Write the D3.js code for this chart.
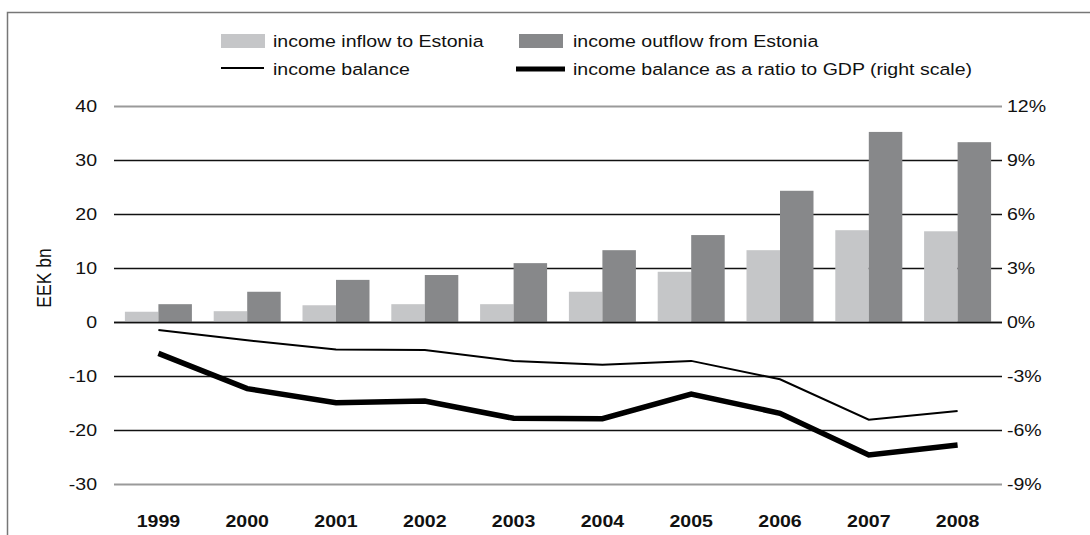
<!DOCTYPE html>
<html><head><meta charset="utf-8">
<script src="https://cdn.jsdelivr.net/npm/d3@7"></script>
<style>body{margin:0;background:#fff}svg{display:block;font-family:"Liberation Sans",Arial,sans-serif}</style>
</head><body><svg id="c" width="1090" height="535"></svg>
<script>
const years = ["1999","2000","2001","2002","2003","2004","2005","2006","2007","2008"];
const inflow = [1.9, 2.0, 3.1, 3.3, 3.3, 5.6, 9.3, 13.3, 17.0, 16.8];
const outflow = [3.3, 5.6, 7.8, 8.7, 10.9, 13.3, 16.1, 24.3, 35.2, 33.3];
const balance = [-1.5, -3.4, -5.1, -5.2, -7.2, -7.9, -7.2, -10.6, -18.1, -16.5];
const ratio = [-1.74, -3.7, -4.48, -4.39, -5.35, -5.37, -4.0, -5.07, -7.39, -6.83];
const leftTicks = [40, 30, 20, 10, 0, -10, -20, -30];
const rightTicks = [12, 9, 6, 3, 0, -3, -6, -9];

const svg = d3.select("#c");
const L = 114, R = 1002, T = 106, B = 484;
const SX = 1.15;
const x = d3.scaleBand().domain(years).range([L, R]);
const xi = d3.scaleBand().domain(["in","out"]).range([-33.5, 33.5]);
const y = d3.scaleLinear().domain([-30, 40]).range([B, T]);
const y2 = d3.scaleLinear().domain([-9, 12]).range([B, T]);

// frame
svg.append("path").attr("d", "M7.5,540 V12.5 H1095").attr("fill", "none").attr("stroke", "#777").attr("stroke-width", 1.5);

// gridlines
svg.append("g").selectAll("line").data(leftTicks).join("line")
  .attr("x1", L).attr("x2", R).attr("y1", d => Math.round(y(d)) + 0.5).attr("y2", d => Math.round(y(d)) + 0.5)
  .attr("stroke", d => (d === 40 || d === -30) ? "#9a9a9a" : "#111")
  .attr("stroke-width", d => (d === 40 || d === -30) ? 2 : 1.3);

// bars
const g = svg.append("g");
years.forEach((yr, i) => {
  const cx = x(yr) + x.bandwidth() / 2;
  g.append("rect").attr("x", cx + xi("in")).attr("width", xi.bandwidth())
    .attr("y", y(inflow[i])).attr("height", y(0) - y(inflow[i])).attr("fill", "#c5c6c8");
  g.append("rect").attr("x", cx + xi("out")).attr("width", xi.bandwidth())
    .attr("y", y(outflow[i])).attr("height", y(0) - y(outflow[i])).attr("fill", "#87888a");
});
svg.append("line").attr("x1", L).attr("x2", R).attr("y1", Math.round(y(0)) + 0.5).attr("y2", Math.round(y(0)) + 0.5)
  .attr("stroke", "#111").attr("stroke-width", 1.3);

const cxs = d => x(d) + x.bandwidth() / 2;
svg.append("path").datum(balance)
  .attr("d", d3.line().x((d, i) => cxs(years[i])).y(d => y(d)))
  .attr("fill", "none").attr("stroke", "#000").attr("stroke-width", 2);
svg.append("path").datum(ratio)
  .attr("d", d3.line().x((d, i) => cxs(years[i])).y(d => y2(d)))
  .attr("fill", "none").attr("stroke", "#000").attr("stroke-width", 5.5);

function txt(sel, px, py) {
  return sel.attr("transform", (d, i) => `translate(${typeof px === "function" ? px(d, i) : px},${typeof py === "function" ? py(d, i) : py}) scale(${SX},1)`);
}

// left axis labels
txt(svg.append("g").selectAll("text").data(leftTicks).join("text"), 97, d => y(d))
  .attr("dy", "0.36em").attr("text-anchor", "end")
  .attr("font-size", 17).attr("fill", "#111").text(d => d);
// right axis labels
txt(svg.append("g").selectAll("text").data(rightTicks).join("text"), 1007, d => y2(d))
  .attr("dy", "0.36em").attr("text-anchor", "start")
  .attr("font-size", 17).attr("fill", "#111").text(d => d + "%");
// x labels
txt(svg.append("g").selectAll("text").data(years).join("text"), d => cxs(d), 527)
  .attr("text-anchor", "middle")
  .attr("font-size", 17).attr("font-weight", "bold").attr("fill", "#111").text(d => d);
// y title
svg.append("text").attr("transform", "translate(51,278) rotate(-90) scale(1,1.15)").attr("text-anchor", "middle")
  .attr("font-size", 17.5).attr("fill", "#111").text("EEK bn");

// legend
const leg = svg.append("g").attr("font-size", 17).attr("fill", "#111");
leg.append("rect").attr("x", 221).attr("y", 34).attr("width", 44).attr("height", 14).attr("fill", "#c5c6c8");
leg.append("rect").attr("x", 519).attr("y", 34).attr("width", 44).attr("height", 14).attr("fill", "#87888a");
leg.append("line").attr("x1", 221).attr("x2", 264).attr("y1", 68).attr("y2", 68).attr("stroke", "#000").attr("stroke-width", 2);
leg.append("line").attr("x1", 516).attr("x2", 565).attr("y1", 69).attr("y2", 69).attr("stroke", "#000").attr("stroke-width", 5);
const legTexts = [
  {t: "income inflow to Estonia", x: 273, y: 47},
  {t: "income outflow from Estonia", x: 573, y: 47},
  {t: "income balance", x: 273, y: 75},
  {t: "income balance as a ratio to GDP (right scale)", x: 573, y: 75}
];
txt(leg.selectAll("text").data(legTexts).join("text"), d => d.x, d => d.y).text(d => d.t);
</script></body></html>
